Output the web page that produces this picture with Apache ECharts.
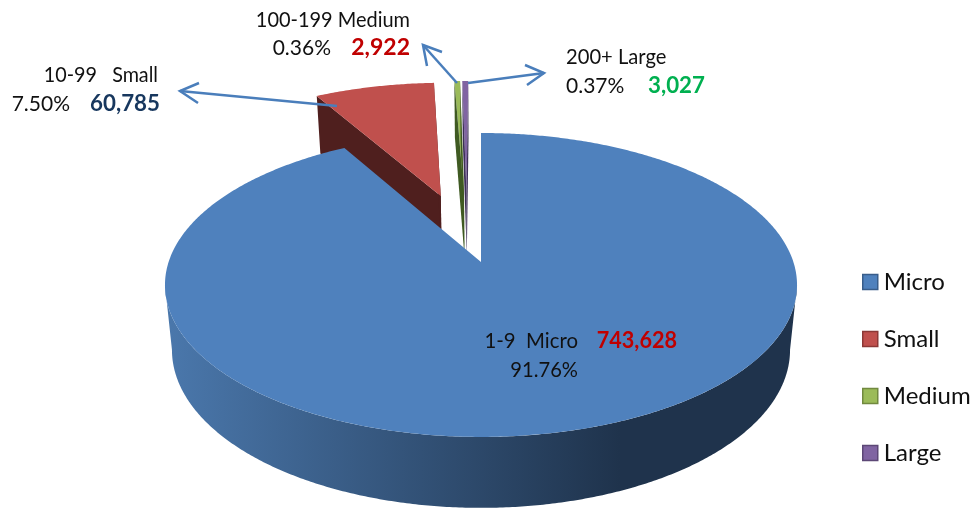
<!DOCTYPE html>
<html><head><meta charset="utf-8">
<style>html,body{margin:0;padding:0;background:#fff}#c{width:977px;height:510px}</style>
<script src="https://cdn.jsdelivr.net/npm/echarts@6/dist/echarts.min.js"></script>
</head><body><div id="c"></div>
<script>
// ---- data ----
var categories = ['Micro', 'Small', 'Medium', 'Large'];
var employeeBands = ['1-9', '10-99', '100-199', '200+'];
var establishments = [743628, 60785, 2922, 3027];
var percentLabels = ['91.76%', '7.50%', '0.36%', '0.37%'];

// ---- styling ----
var topColors = ['#4f81bd', '#c0504d', '#9bbb59', '#8064a2'];
var borderColors = ['#385d8a', '#8c3836', '#71893f', '#5c4776'];
var wallColors = ['#1f334c', '#4f1f1e', '#3f5a22', '#3d2f58'];
var seriesZ = [10, 5, 4, 3];
var FONT = 'Lato, "Open Sans", sans-serif';

// ---- perspective model of the tilted pie ----
var CX = 481, PERSP = 0.151;
var TOP_PLANE = {y0: 262, a: 312.4, b: 148.5};
var LOW_PLANE = {y0: 326, a: 305.5, b: 154.4};
var explode = [[0, 0], [-0.138, -0.476], [-0.0585, -0.495], [-0.05, -0.495]];
var WALL_ON_TOP = [false, false, true, true];

function project(plane, u, v) {
  var d = 1 - PERSP * v;
  return [CX + plane.a * u / d, plane.y0 + plane.b * v / d];
}
function rim(plane, deg, off) {
  var r = deg * Math.PI / 180;
  return project(plane, off[0] + Math.sin(r), off[1] - Math.cos(r));
}
function arc(plane, a0, a1, off) {
  var n = Math.max(2, Math.ceil(Math.abs(a1 - a0) * 2)), pts = [];
  for (var i = 0; i <= n; i++) pts.push(rim(plane, a0 + (a1 - a0) * i / n, off));
  return pts;
}

var total = establishments.reduce(function (s, x) { return s + x; }, 0);
var startAngles = [], acc = 0;
establishments.forEach(function (x) { startAngles.push(acc / total * 360); acc += x; });

function poly(points, fill) {
  return {type: 'polygon', shape: {points: points}, style: {fill: fill, stroke: null}, silent: true};
}
function makeRender(i) {
  return function (params, api) {
    var a0 = startAngles[i], a1 = a0 + api.value(0) / total * 360, off = explode[i];
    var apexT = project(TOP_PLANE, off[0], off[1]), apexL = project(LOW_PLANE, off[0], off[1]);
    var top = poly([apexT].concat(arc(TOP_PLANE, a0, a1, off)), topColors[i]);
    var kids = [];
    var leftWall = poly([rim(TOP_PLANE, a1, off), apexT, apexL, rim(LOW_PLANE, a1, off)], wallColors[i]);
    var rightWall = poly([rim(TOP_PLANE, a0, off), apexT, apexL, rim(LOW_PLANE, a0, off)], wallColors[i]);
    if (i === 0) {
      // front rim between the two silhouette tangents of the pie
      var t = Math.acos(-PERSP) * 180 / Math.PI;
      var rimPts = arc(TOP_PLANE, t, 360 - t, off).concat(arc(LOW_PLANE, 360 - t, t, off));
      var wall = poly(rimPts, new echarts.graphic.LinearGradient(170, 0, 620, 0,
        [{offset: 0, color: '#4a77ab'}, {offset: 1, color: wallColors[0]}], true));
      kids = [wall, top];
    } else if (WALL_ON_TOP[i]) {
      kids = [top, rightWall, leftWall];
    } else {
      kids = [rightWall, leftWall, top];
    }
    return {type: 'group', children: kids};
  };
}

var series = categories.map(function (name, i) {
  return {
    type: 'custom', name: name, coordinateSystem: 'none', z: seriesZ[i], silent: true,
    itemStyle: {color: topColors[i]},
    renderItem: makeRender(i), data: [[establishments[i]]]
  };
});

function fmt(n) { return n.toLocaleString('en-US'); }
function txt(x, y, s, align, color, bold, size, sx) {
  return {type: 'text', x: x, y: y, z: 100, silent: true, scaleX: sx || 1, style: {
    text: s, align: align, verticalAlign: 'middle', fill: color,
    font: (bold ? 'bold ' : '') + (size || 21) + 'px ' + FONT}};
}
function arrow(from, tip, b1, b2) {
  var st = {stroke: '#4a7ebb', lineWidth: 2.5, fill: null};
  return [
    {type: 'polyline', z: 101, silent: true, shape: {points: [from, tip]}, style: st},
    {type: 'polyline', z: 101, silent: true, shape: {points: [b1, tip, b2]}, style: st}
  ];
}
var BLACK = '#111111', RED = '#c00000', NAVY = '#17375e', GREEN = '#00b050';
var graphics = [
  txt(578, 341, employeeBands[0] + '  ' + categories[0], 'right', BLACK, false, 21, 0.97),
  txt(677, 341, fmt(establishments[0]), 'right', RED, true, 23, 0.94),
  txt(578, 370, percentLabels[0], 'right', BLACK, false, 21, 0.96),
  txt(158, 75, employeeBands[1] + '   ' + categories[1], 'right', BLACK, false, 21, 0.94),
  txt(70, 104, percentLabels[1], 'right', BLACK),
  txt(160, 104, fmt(establishments[1]), 'right', NAVY, true, 23, 0.97),
  txt(410, 20, employeeBands[2] + ' ' + categories[2], 'right', BLACK, false, 21, 0.95),
  txt(331, 48, percentLabels[2], 'right', BLACK),
  txt(410, 48, fmt(establishments[2]), 'right', RED, true, 23),
  txt(566, 57, employeeBands[3] + ' ' + categories[3], 'left', BLACK, false, 21, 0.96),
  txt(566, 86, percentLabels[3], 'left', BLACK),
  txt(648, 86, fmt(establishments[3]), 'left', GREEN, true, 23, 0.97)
].concat(
  arrow([337, 106], [180, 91], [199, 83], [198, 103]),
  arrow([457, 83], [423, 45], [442, 52], [427, 66]),
  arrow([468, 83], [544, 73], [525, 65], [527, 85])
);

var chart = echarts.init(document.getElementById('c'), null, {renderer: 'canvas'});
chart.setOption({
  animation: false,
  backgroundColor: '#ffffff',
  legend: {
    orient: 'vertical', left: 857, top: 265, itemWidth: 15, itemHeight: 15, itemGap: 33,
    icon: 'rect', selectedMode: false,
    textStyle: {fontFamily: FONT, fontSize: 24, color: '#111111', padding: [0, 0, 0, 1]},
    data: categories.map(function (n, i) {
      return {name: n, itemStyle: {color: topColors[i], borderColor: borderColors[i], borderWidth: 1.5}};
    })
  },
  graphic: graphics,
  series: series
});
</script></body></html>
